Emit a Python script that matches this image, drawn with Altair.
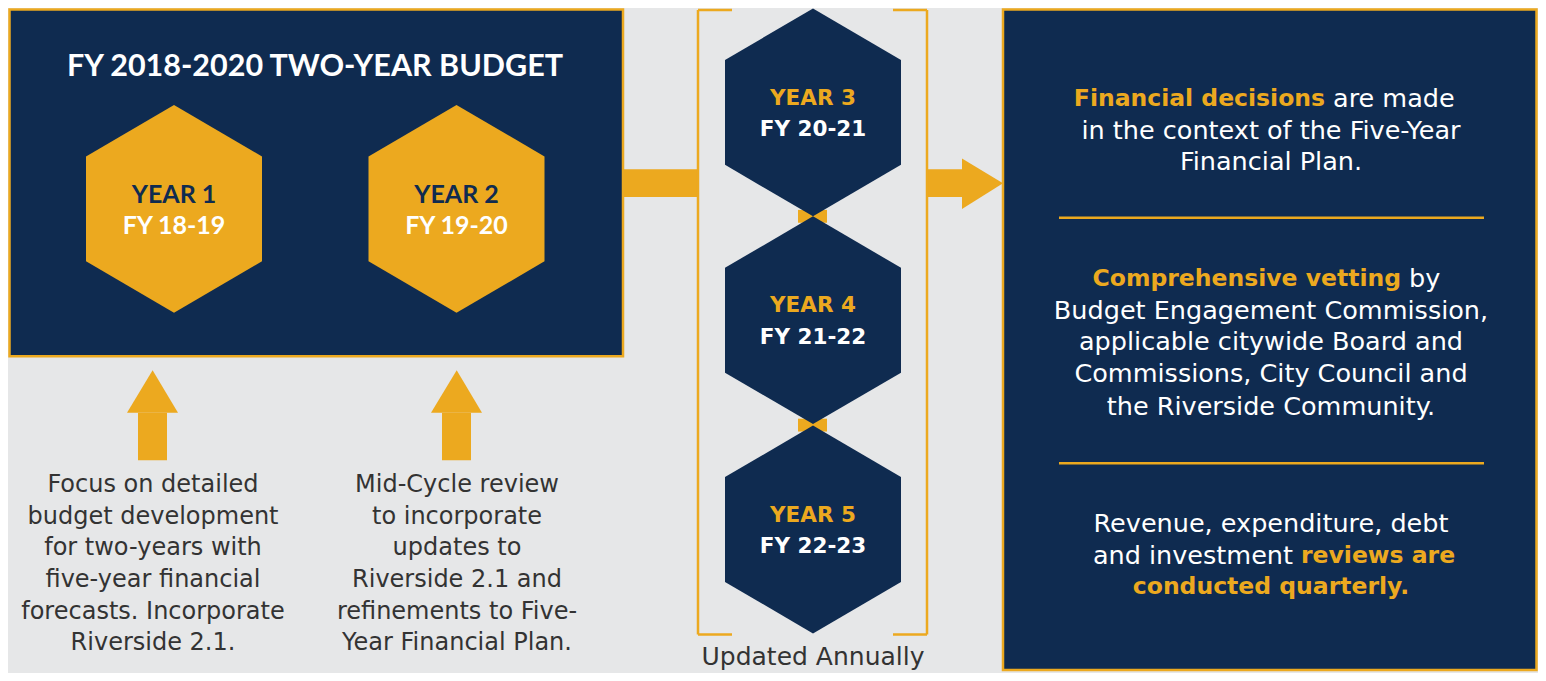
import altair as alt
import pandas as pd

NAVY = "#0F2B50"
GOLD = "#ECA91F"
BG = "#E6E7E8"
DARK = "#333333"
WHITE = "#FFFFFF"

# visible coordinate window of the diagram (reference pixel coordinates)
X_DOMAIN = [8, 1538]
Y_DOMAIN = [7, 679]

# ---------------- data ----------------
hex_top_labels = ["YEAR 1", "YEAR 2", "YEAR 3", "YEAR 4", "YEAR 5"]
hex_fy_labels = ["FY 18-19", "FY 19-20", "FY 20-21", "FY 21-22", "FY 22-23"]
hex_group = ["budget", "budget", "plan", "plan", "plan"]
hex_cx = [174, 456.5, 813, 813, 813]
hex_cy = [210, 210, 112.5, 322.5, 534]
hex_half_w = 88
hex_half_h = 105
hex_side_half = 53

title_text = ["FY 2018-2020 TWO-YEAR BUDGET"]
title_x = [315]
title_y = [67]

box_x = [9.5, 1003]
box_x2 = [623, 1536.5]
box_y = [8.5, 8.5]
box_y2 = [359, 676]

bar_x = [623, 927, 138, 442, 798, 798]
bar_x2 = [698, 962, 167, 471, 827, 827]
bar_y = [170, 170, 416, 416, 211, 422]
bar_y2 = [198, 198, 464, 464, 224, 435]

head_id = ["right", "right", "up1", "up1", "up1", "up2", "up2", "up2"]
head_x = [962, 1003, 127, 152.6, 178, 431, 456.7, 482]
head_y = [159, 184, 416, 373, 416, 416, 373, 416]
head_y2 = [210, 184, 416, 416, 416, 416, 416, 416]

seg_x = [698, 698, 698, 927, 893, 893, 1059, 1059]
seg_x2 = [698, 732, 732, 927, 927, 927, 1484, 1484]
seg_y = [9, 9, 640, 9, 9, 640, 219, 467]
seg_y2 = [640, 9, 640, 640, 9, 640, 219, 467]

left_notes = ["Focus on detailed", "budget development", "for two-years with",
              "five-year financial", "forecasts. Incorporate", "Riverside 2.1."]
mid_notes = ["Mid-Cycle review", "to incorporate", "updates to",
             "Riverside 2.1 and", "refinements to Five-", "Year Financial Plan."]
note_line_y = [489, 521, 553, 585, 617, 649]
left_note_x = 153
mid_note_x = 457

rp_plain = ["in the context of the Five-Year", "Financial Plan.",
            "Budget Engagement Commission,", "applicable citywide Board and",
            "Commissions, City Council and", "the Riverside Community.",
            "Revenue, expenditure, debt"]
rp_plain_y = [131, 163, 313, 345, 377, 410, 528]
rp_center_x = 1271
rp_bold_right = ["Financial decisions", "Comprehensive vetting"]
rp_bold_right_x = [1325, 1401]
rp_plain_left = ["are made", "by"]
rp_plain_left_x = [1333, 1409]
rp_mixed_y = [99, 281]
rp_plain_right = ["and investment"]
rp_plain_right_x = [1293]
rp_bold_left = ["reviews are"]
rp_bold_left_x = [1301]
rp_mixed2_y = [561]
rp_bold_center = ["conducted quarterly."]
rp_bold_center_y = [592]

footer = ["Updated Annually"]
footer_x = [813]
footer_y = [663]

# ---------------- tables ----------------
hex_rows = []
for i in range(len(hex_cx)):
    for dx, hh in [(-hex_half_w, hex_side_half), (0, hex_half_h), (hex_half_w, hex_side_half)]:
        hex_rows.append({"id": i, "grp": hex_group[i], "x": hex_cx[i] + dx,
                         "y": hex_cy[i] - hh, "y2": hex_cy[i] + hh})
hex_df = pd.DataFrame(hex_rows)

lab_df = pd.DataFrame({"top": hex_top_labels, "fy": hex_fy_labels, "grp": hex_group,
                       "x": hex_cx, "cy": hex_cy})
lab_df["ytop"] = lab_df["cy"] - 14
lab_df["yfy"] = lab_df["cy"] + 17.5

XS = alt.Scale(domain=X_DOMAIN, nice=False, zero=False)
YS = alt.Scale(domain=Y_DOMAIN, nice=False, zero=False, reverse=True)


def X(f="x"):
    return alt.X(f"{f}:Q", scale=XS, axis=None)


def Y(f="y"):
    return alt.Y(f"{f}:Q", scale=YS, axis=None)


boxes = alt.Chart(pd.DataFrame({"x": box_x, "x2": box_x2, "y": box_y, "y2": box_y2})).mark_rect(
    fill=NAVY, stroke=GOLD, strokeWidth=2.5
).encode(x=X(), x2="x2:Q", y=Y(), y2="y2:Q")

bars = alt.Chart(pd.DataFrame({"x": bar_x, "x2": bar_x2, "y": bar_y, "y2": bar_y2})).mark_rect(
    fill=GOLD
).encode(x=X(), x2="x2:Q", y=Y(), y2="y2:Q")

heads = alt.Chart(pd.DataFrame({"id": head_id, "x": head_x, "y": head_y, "y2": head_y2})).mark_area(
    fill=GOLD, orient="vertical"
).encode(x=X(), y=Y(), y2="y2:Q", detail="id:N")

segs = alt.Chart(pd.DataFrame({"x": seg_x, "x2": seg_x2, "y": seg_y, "y2": seg_y2})).mark_rule(
    color=GOLD, strokeWidth=2.5
).encode(x=X(), x2="x2:Q", y=Y(), y2="y2:Q")

hex_gold = alt.Chart(hex_df[hex_df.grp == "budget"]).mark_area(fill=GOLD, orient="vertical").encode(
    x=X(), y=Y(), y2="y2:Q", detail="id:N")
hex_navy = alt.Chart(hex_df[hex_df.grp == "plan"]).mark_area(fill=NAVY, orient="vertical").encode(
    x=X(), y=Y(), y2="y2:Q", detail="id:N")


def txt(df, text, color, font, size, weight="normal", align="center", xf="x", yf="y"):
    return alt.Chart(df).mark_text(
        color=color, font=font, fontSize=size, fontWeight=weight, align=align, baseline="middle"
    ).encode(x=X(xf), y=Y(yf), text=f"{text}:N")


title = txt(pd.DataFrame({"t": title_text, "x": title_x, "y": title_y}), "t", WHITE, "Lato", 30.5, "bold")

lb = lab_df[lab_df.grp == "budget"]
lp = lab_df[lab_df.grp == "plan"]
hex_txt = [
    txt(lb, "top", NAVY, "Lato", 25, "bold", yf="ytop"),
    txt(lb, "fy", WHITE, "Lato", 25, "bold", yf="yfy"),
    txt(lp, "top", GOLD, "DejaVu Sans", 21.5, "bold", yf="ytop"),
    txt(lp, "fy", WHITE, "DejaVu Sans", 21.5, "bold", yf="yfy"),
]

notes_df = pd.DataFrame({
    "t": left_notes + mid_notes,
    "x": [left_note_x] * len(left_notes) + [mid_note_x] * len(mid_notes),
    "y": note_line_y + note_line_y,
})
notes = txt(notes_df, "t", DARK, "DejaVu Sans", 24)

RF = "DejaVu Sans"
RS = 25.5
RB = 23.5
rp = [
    txt(pd.DataFrame({"t": rp_plain, "x": [rp_center_x] * len(rp_plain), "y": rp_plain_y}), "t", WHITE, RF, RS),
    txt(pd.DataFrame({"t": rp_bold_right, "x": rp_bold_right_x, "y": rp_mixed_y}), "t", GOLD, RF, RB, "bold", "right"),
    txt(pd.DataFrame({"t": rp_plain_left, "x": rp_plain_left_x, "y": rp_mixed_y}), "t", WHITE, RF, RS, "normal", "left"),
    txt(pd.DataFrame({"t": rp_plain_right, "x": rp_plain_right_x, "y": rp_mixed2_y}), "t", WHITE, RF, RS, "normal", "right"),
    txt(pd.DataFrame({"t": rp_bold_left, "x": rp_bold_left_x, "y": rp_mixed2_y}), "t", GOLD, RF, RB, "bold", "left"),
    txt(pd.DataFrame({"t": rp_bold_center, "x": [rp_center_x], "y": rp_bold_center_y}), "t", GOLD, RF, RB, "bold"),
]

foot = txt(pd.DataFrame({"t": footer, "x": footer_x, "y": footer_y}), "t", DARK, RF, 25)

chart = alt.layer(
    boxes, bars, segs, hex_gold, hex_navy, heads, title, *hex_txt, notes, *rp, foot
).properties(
    width=1530, height=665,
    autosize=alt.AutoSizeParams(type="none"),
    padding=0,
    background=BG,
).configure_view(stroke=None)

chart.save("out.html", embed_options={"renderer": "svg", "actions": False})
